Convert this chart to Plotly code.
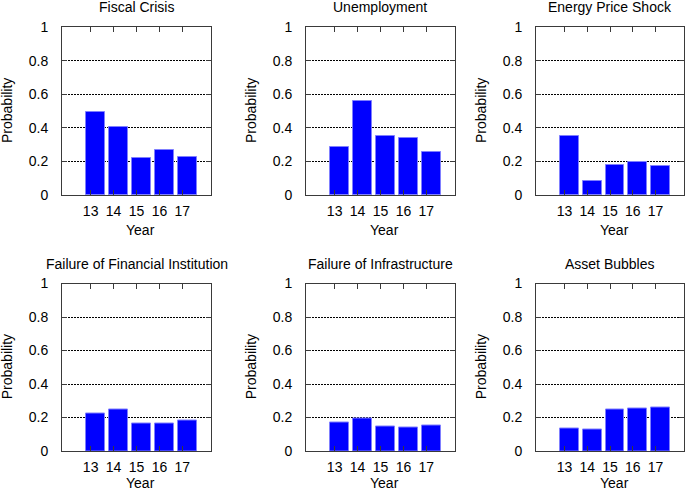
import plotly.graph_objects as go

years = [13, 14, 15, 16, 17]
titles = ["Fiscal Crisis", "Unemployment", "Energy Price Shock",
          "Failure of Financial Institution", "Failure of Infrastructure", "Asset Bubbles"]
fiscal_crisis = [0.492, 0.403, 0.218, 0.270, 0.224]
unemployment = [0.285, 0.560, 0.351, 0.337, 0.258]
energy_price_shock = [0.351, 0.085, 0.180, 0.194, 0.174]
financial_institution = [0.225, 0.249, 0.165, 0.165, 0.181]
infrastructure = [0.169, 0.197, 0.149, 0.141, 0.151]
asset_bubbles = [0.133, 0.127, 0.250, 0.252, 0.260]
series = [fiscal_crisis, unemployment, energy_price_shock,
          financial_institution, infrastructure, asset_bubbles]
y_ticks = [0, 0.2, 0.4, 0.6, 0.8, 1]
y_ticktext = ["0", "0.2", "0.4", "0.6", "0.8", "1"]

W, H = 685, 492
col_px = [(62, 211), (306, 455), (536, 684)]
row_px = [(27, 195), (283.5, 451)]
FONT = "Liberation Sans, Arial, Helvetica, sans-serif"
FRAME = "#3a3a3a"

fig = go.Figure()
annotations = []
for i, (name, vals) in enumerate(zip(titles, series)):
    r, c = divmod(i, 3)
    x0, x1 = col_px[c]
    y0, y1 = row_px[r]
    n = i + 1
    xa = "x" if n == 1 else f"x{n}"
    ya = "y" if n == 1 else f"y{n}"
    fig.add_trace(go.Bar(
        x=years, y=vals, xaxis=xa, yaxis=ya,
        width=0.82, offset=-0.19,
        marker=dict(color="#0000ff", line=dict(color="#7f7fff", width=1)),
        showlegend=False,
    ))
    xdom = [x0 / W, x1 / W]
    ydom = [1 - y1 / H, 1 - y0 / H]
    fig.layout[f"xaxis{'' if n == 1 else n}"] = dict(
        domain=xdom, anchor=ya, range=[11.75, 18.25],
        tickvals=years, ticktext=[str(v) for v in years],
        ticks="inside", ticklen=5, tickcolor=FRAME, tickwidth=1,
        showline=True, linecolor=FRAME, linewidth=1, mirror="ticks",
        showgrid=False, zeroline=False, fixedrange=True, automargin=False,
        tickfont=dict(family=FONT, size=14, color="#000"),
        ticklabelstandoff=3,
    )
    fig.layout[f"yaxis{'' if n == 1 else n}"] = dict(
        domain=ydom, anchor=xa, range=[0, 1],
        tickvals=y_ticks, ticktext=y_ticktext,
        ticks="inside", ticklen=5, tickcolor=FRAME, tickwidth=1,
        showline=True, linecolor=FRAME, linewidth=1, mirror="ticks",
        showgrid=True, gridcolor="#000", gridwidth=1, griddash="1.5px,1.5px",
        zeroline=False, fixedrange=True, automargin=False,
        tickfont=dict(family=FONT, size=14, color="#000"),
        ticklabelstandoff=10,
    )
    annotations.append(dict(
        text=name, xref="paper", yref="paper",
        x=(x0 + x1) / 2 / W, y=1 - (y0 - 20) / H,
        xanchor="center", yanchor="middle", showarrow=False,
        font=dict(family=FONT, size=14, color="#000"),
    ))
    annotations.append(dict(
        text="Year", xref="paper", yref="paper",
        x=(x0 + x1 + 8) / 2 / W, y=1 - min(y1 + 35, 483) / H,
        xanchor="center", yanchor="middle", showarrow=False,
        font=dict(family=FONT, size=14, color="#000"),
    ))
    annotations.append(dict(
        text="Probability", xref="paper", yref="paper",
        x=(x0 - 55) / W, y=1 - (y0 + y1) / 2 / H,
        xanchor="center", yanchor="middle", showarrow=False, textangle=-90,
        font=dict(family=FONT, size=14, color="#000"),
    ))

fig.update_layout(
    width=W, height=H,
    margin=dict(l=0, r=0, t=0, b=0, autoexpand=False),
    paper_bgcolor="white", plot_bgcolor="white",
    annotations=annotations,
    bargap=0,
)
fig.write_html("out.html", config={"displayModeBar": False},
               post_script="document.body.style.margin='0';document.body.style.overflow='hidden';")
